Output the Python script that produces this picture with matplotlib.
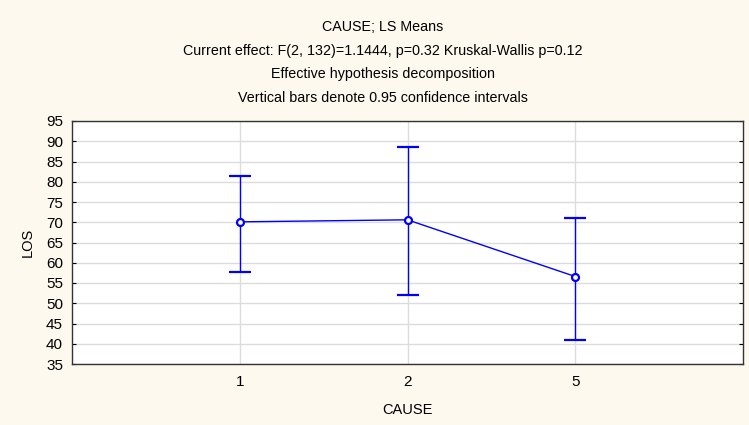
import matplotlib.pyplot as plt
import numpy as np

plt.rcParams['font.family'] = ['Liberation Sans', 'DejaVu Sans']

# Data
causes = ["1", "2", "5"]
ls_means = [70.1, 70.6, 56.6]
ci_upper = [81.5, 88.6, 71.1]
ci_lower = [57.7, 52.1, 40.9]

titles = [
    "CAUSE; LS Means",
    "Current effect: F(2, 132)=1.1444, p=0.32 Kruskal-Wallis p=0.12",
    "Effective hypothesis decomposition",
    "Vertical bars denote 0.95 confidence intervals",
]

bg = "#fdf9ee"
blue = "#0000ff"

fig = plt.figure(figsize=(7.49, 4.25), dpi=100, facecolor=bg)
ax = fig.add_axes([72 / 749, 1 - 364 / 425, (743 - 72) / 749, (364 - 121) / 425])
ax.set_facecolor("white")

x = np.arange(1, len(causes) + 1)
means = np.array(ls_means)
yerr = [means - np.array(ci_lower), np.array(ci_upper) - means]

ax.errorbar(x, means, yerr=yerr, color=blue, lw=1, marker="o", ms=5,
            mfc="white", mec=blue, mew=1.6, capsize=8, capthick=1,
            ecolor=blue, zorder=3)

ax.set_xlim(0, 4)
ax.set_ylim(35, 95)
ax.set_xticks(x)
ax.set_xticklabels(causes)
ax.set_yticks(np.arange(35, 96, 5))
ax.grid(True, color="#dcdcdc", lw=1)
ax.set_axisbelow(True)
ax.tick_params(axis="y", direction="in", length=3, labelsize=11, pad=6.5,
               left=True, right=True)
ax.tick_params(axis="x", length=0, labelsize=11, pad=8)
for s in ax.spines.values():
    s.set_color("#333333")
    s.set_linewidth(1)

ax.set_xlabel("CAUSE", fontsize=10.5, labelpad=10)
ax.set_ylabel("LOS", fontsize=10.5, labelpad=8)

for i, t in enumerate(titles):
    fig.text(383 / 749, 1 - (27 + 23.7 * i) / 425, t, ha="center", va="center",
             fontsize=10.3)

fig.savefig("out.png", dpi=100, facecolor=bg)
